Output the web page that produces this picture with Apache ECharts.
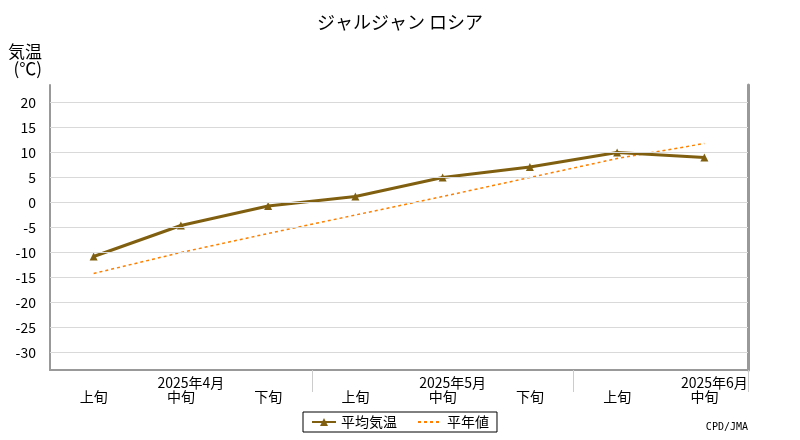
<!DOCTYPE html>
<html><head><meta charset="utf-8">
<script src="https://cdn.jsdelivr.net/npm/echarts@6/dist/echarts.min.js"></script>
<style>html,body{margin:0;padding:0;background:#fff}#c{width:800px;height:440px}</style>
</head><body><div id="c"></div>
<script>
const categories = ['上旬','中旬','下旬','上旬','中旬','下旬','上旬','中旬'];
const months = ['', '2025年4月', '', '', '2025年5月', '', '', '2025年6月'];
const avgTemp = [-10.8, -4.6, -0.7, 1.2, 5.0, 7.1, 10.0, 9.0];
const normalTemp = [-14.2, -10.0, -6.2, -2.5, 1.2, 5.0, 8.8, 11.8];
const yTicks = [-30, -25, -20, -15, -10, -5, 0, 5, 10, 15, 20];
const F = '"Noto Sans CJK JP", sans-serif';
const chart = echarts.init(document.getElementById('c'));
chart.setOption({
  animation: false,
  title: { text: 'ジャルジャン ロシア', left: 'center', top: 8, textStyle: { fontFamily: F, fontSize: 18, fontWeight: 'normal', color: '#000' } },
  graphic: [{ type: 'text', right: 52, bottom: 8, style: { text: 'CPD/JMA', font: '10px "DejaVu Sans Mono"', fill: '#000' } }],
  grid: { left: 50, right: 52, top: 85, bottom: 70 },
  legend: {
    bottom: 8, left: 'center', itemGap: 20, borderColor: '#000', borderWidth: 1, padding: [3, 8],
    textStyle: { fontFamily: F, fontSize: 14, color: '#000' }, itemWidth: 24, itemHeight: 10,
    data: [{ name: '平均気温' }, { name: '平年値', itemStyle: { opacity: 0 } }]
  },
  xAxis: {
    type: 'category', data: categories, boundaryGap: true,
    axisLine: { onZero: false, lineStyle: { color: '#999', width: 2 } },
    axisTick: { show: true, length: 22, interval: (i) => i === 3 || i === 6, lineStyle: { color: '#ccc' } },
    axisLabel: {
      interval: 0, margin: 6, fontFamily: F, fontSize: 14, color: '#000',
      formatter: (v, i) => months[i] ? '{m|' + months[i] + '}\n' + v : '{m| }\n' + v,
      rich: { m: { fontFamily: F, fontSize: 14, color: '#000', padding: [0, 0, 0, 20] } }
    }
  },
  yAxis: [{
    type: 'value', min: -33.5, max: 23.5,
    name: '気温\n(℃)', nameLocation: 'end', nameGap: 8,
    nameTextStyle: { fontFamily: F, fontSize: 17, color: '#000', align: 'right', padding: [0, 8, 0, 0] },
    axisLine: { show: true, onZero: false, lineStyle: { color: '#999', width: 2 } },
    axisTick: { show: false },
    splitLine: { show: false },
    axisLabel: { customValues: yTicks, fontFamily: F, fontSize: 14, color: '#000', margin: 14 }
  }, {
    type: 'value', min: -33.5, max: 23.5, position: 'right',
    axisLine: { show: true, onZero: false, lineStyle: { color: '#999', width: 3 } },
    axisTick: { show: false }, axisLabel: { show: false }, splitLine: { show: false }
  }],
  series: [
    { name: 'grid', type: 'line', data: [], silent: true, legendHoverLink: false,
      markLine: { symbol: 'none', silent: true, label: { show: false },
        lineStyle: { color: '#d9d9d9', type: 'solid', width: 1 },
        data: yTicks.map(v => ({ yAxis: v })) } },
    { name: '平年値', type: 'line', data: normalTemp, symbol: 'none', z: 3,
      lineStyle: { color: '#ff8000', type: [3, 3], width: 1.5 }, itemStyle: { color: '#ff8000' } },
    { name: '平均気温', type: 'line', data: avgTemp, symbol: 'triangle', symbolSize: 8, z: 4,
      lineStyle: { color: '#806010', width: 3 }, itemStyle: { color: '#806010' } }
  ]
});
</script></body></html>
